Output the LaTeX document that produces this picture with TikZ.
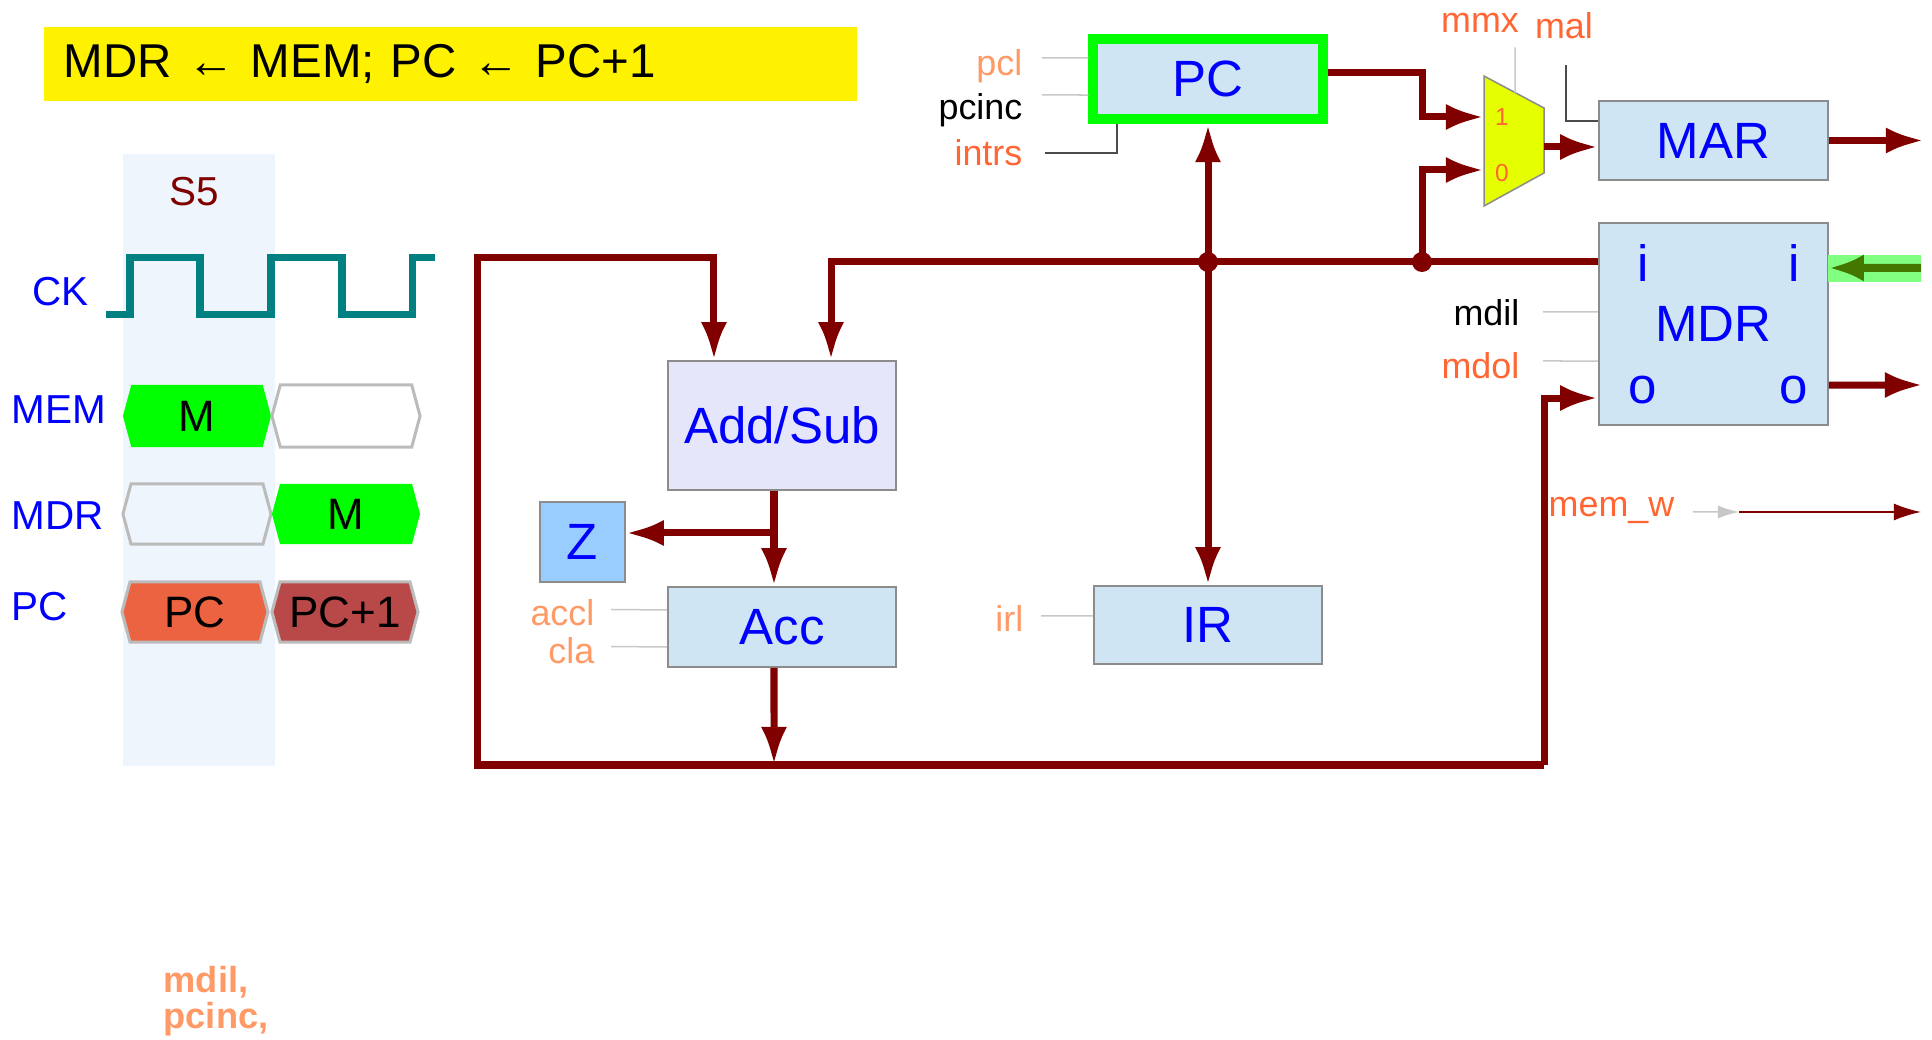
\documentclass[tikz,border=0pt]{standalone}
\usepackage{fontspec}
\setmainfont{Liberation Sans}
\usetikzlibrary{arrows.meta,positioning,shapes.symbols}
\definecolor{busred}{HTML}{800000}
\definecolor{regblue}{HTML}{CFE5F3}
\definecolor{alublue}{HTML}{E6E6FA}
\definecolor{zblue}{HTML}{99CCFF}
\definecolor{colbg}{HTML}{EEF5FC}
\definecolor{ckteal}{HTML}{008080}
\definecolor{hexgray}{HTML}{BBBBBB}
\definecolor{boxgray}{HTML}{8C8C8C}
\definecolor{ctlgray}{HTML}{C8C8C8}
\definecolor{ltorange}{HTML}{FF9966}
\definecolor{dkorange}{HTML}{FF6633}
\definecolor{sigred}{HTML}{EB6341}
\definecolor{sigbrown}{HTML}{B94849}
\definecolor{muxyellow}{HTML}{E5FF00}
\definecolor{litegreen}{HTML}{80FF80}
\definecolor{dkgreen}{HTML}{447700}
\begin{document}
\begin{tikzpicture}[x=0.01cm,y=-0.01cm,>={Latex[length=0.38cm,width=0.26cm]},
  every node/.style={inner sep=0pt,font=\fontsize{10.2}{12}\selectfont},
  reg/.style={draw=boxgray,line width=0.015cm,fill=regblue,text=blue,minimum width=2.28cm,minimum height=0.79cm,font=\fontsize{14.5}{17}\selectfont},
  port/.style={text=blue,font=\fontsize{14.5}{17}\selectfont},
  bus/.style={draw=busred,line width=0.07cm},
  ctl/.style={draw=ctlgray,line width=0.015cm},
  wire/.style={draw=black!70,line width=0.015cm},
  sig/.style={anchor=east},
  rowlab/.style={anchor=west,text=blue,font=\fontsize{11.5}{14}\selectfont},
  hexcell/.style={signal,signal to=east and west,signal pointer angle=150,minimum width=1.48cm,minimum height=0.6cm,line width=0.03cm,font=\fontsize{12.5}{15}\selectfont},
  joint/.style={circle,fill=busred,minimum size=0.2cm}]
\useasboundingbox (0,0) rectangle (1932,1040);
\node[fill=yellow,minimum width=8.13cm,minimum height=0.73cm,text width=7.73cm,inner xsep=0.2cm,align=left,font=\fontsize{13.5}{16}\selectfont] (title) at (450.5,64) {MDR ← MEM; PC ← PC+1};
\fill[colbg] (123,154) rectangle (275,766);
\node[text=busred,font=\fontsize{11.5}{14}\selectfont] (s5) at (194,192) {S5};
\node[rowlab] (ck) at (32,292) {CK};
\draw[ckteal,line width=0.07cm] (106,315) -- (130,315) -- (130,258) -- (200,258) -- (200,315) -- (271,315) -- (271,258) -- (342,258) -- (342,315) -- (412,315) -- (412,258) -- (435,258);
\node[rowlab] (memlab) at (11,410) {MEM};
\node[hexcell,fill=green,minimum height=0.62cm] (mem1) at (197,416) {M};
\node[hexcell,draw=hexgray,fill=white,minimum height=0.62cm] (mem2) at (346,416) {};
\node[rowlab] (mdrlab) at (11,516) {MDR};
\node[hexcell,draw=hexgray] (mdr1) at (197,514) {};
\node[hexcell,fill=green] (mdr2) at (346,514) {M};
\node[rowlab] (pclab) at (11,607) {PC};
\node[hexcell,draw=hexgray,fill=sigred,minimum width=1.46cm] (pc1) at (195,612) {PC};
\node[hexcell,draw=hexgray,fill=sigbrown,minimum width=1.46cm] (pc2) at (345,612) {PC+1};
\node[reg,fill=alublue,minimum height=1.29cm] (addsub) at (782,425.5) {Add/Sub};
\node[reg,fill=zblue,minimum width=0.85cm,minimum height=0.8cm] (zreg) at (582.5,542) {Z};
\node[reg,minimum height=0.8cm] (acc) at (782,627) {Acc};
\node[reg,minimum height=0.78cm] (ir) at (1208,625) {IR};
\node[reg,draw=green,line width=0.1cm,minimum width=2.29cm,minimum height=0.8cm] (pc) at (1208,79) {PC};
\node[reg,minimum width=2.29cm] (mar) at (1713.5,140.5) {MAR};
\node[reg,minimum width=2.29cm,minimum height=2.02cm] (mdr) at (1713.5,324) {MDR};
\node[port] (inl) at (1643,263) {i};
\node[port] (inr) at (1794,263) {i};
\node[port] (outl) at (1643,390) {o};
\node[port] (outr) at (1794,390) {o};
\draw[draw=boxgray,fill=muxyellow,line width=0.015cm] (1484,76) -- (1544,108) -- (1544,173) -- (1484,206) -- cycle;
\node[text=dkorange,font=\fontsize{7}{8}\selectfont] (mone) at (1502,117) {1};
\node[text=dkorange,font=\fontsize{7}{8}\selectfont] (mzero) at (1502,173) {0};
\coordinate (mux1) at (1484,117);
\coordinate (mux0) at (1484,170);
\coordinate (muxo) at (1544,147);
\coordinate (muxt) at (1515,93);
\node[sig,text=ltorange] (pcl) at (1023,66) {pcl};
\node[sig] (pcinc) at (1023,110) {pcinc};
\node[sig,text=dkorange] (intrs) at (1023,153) {intrs};
\node[text=dkorange] (mmx) at (1480,23) {mmx};
\node[text=dkorange] (mal) at (1564,26) {mal};
\node[sig] (mdil) at (1520,313) {mdil};
\node[sig,text=dkorange] (mdol) at (1520,366) {mdol};
\node[sig,text=ltorange] (accl) at (595,613) {accl};
\node[sig,text=ltorange] (cla) at (595,651) {cla};
\node[sig,text=ltorange] (irl) at (1024,619) {irl};
\node[anchor=west,text=dkorange] (memw) at (1548,510) {mem\_w};
\draw[ctl] ([xshift=0.19cm,yshift=0.08cm]pcl.east) -- ([yshift=0.21cm]pc.west);
\draw[ctl] ([xshift=0.19cm,yshift=0.15cm]pcinc.east) -- ([yshift=-0.16cm]pc.west);
\draw[wire] ([xshift=0.22cm]intrs.east) -| ([xshift=-0.91cm]pc.south);
\draw[ctl] ([xshift=0.35cm,yshift=-0.14cm]mmx.south) -- (muxt);
\draw[wire] ([xshift=0.02cm,yshift=-0.25cm]mal.south) |- ([yshift=0.195cm]mar.west);
\draw[ctl] ([xshift=0.23cm,yshift=0.01cm]mdil.east) -- ([yshift=0.12cm]mdr.west);
\draw[ctl] ([xshift=0.23cm,yshift=0.05cm]mdol.east) -- ([yshift=-0.37cm]mdr.west);
\draw[ctl] ([xshift=0.16cm,yshift=0.035cm]accl.east) -- ([yshift=0.17cm]acc.west);
\draw[ctl] ([xshift=0.16cm,yshift=0.045cm]cla.east) -- ([yshift=-0.2cm]acc.west);
\draw[ctl] ([xshift=0.17cm,yshift=0.03cm]irl.east) -- ([yshift=0.09cm]ir.west);
\coordinate (tl) at (477,258);
\coordinate (bl) at (477,765);
\coordinate (br) at (1544,765);
\coordinate (accout) at (774,765);
\coordinate (zb) at (774,533);
\coordinate (marout) at (1924,140.5);
\coordinate (mdrout) at (1923,385);
\coordinate (ext) at (1921,268);
\coordinate (mwa) at (1739,512);
\coordinate (mwb) at (1921,512);
\node[joint] (j1) at (1208,262) {};
\node[joint] (j2) at (1422,262) {};
\draw[bus,->] (br) -- (bl) -- (tl) -| ([xshift=-0.68cm]addsub.north);
\draw[bus,->] (br) |- ([yshift=-0.74cm]mdr.west);
\draw[bus,->] ([yshift=0.62cm]mdr.west) -| ([xshift=0.49cm]addsub.north);
\draw[bus,<->] (pc.south) -- (ir.north);
\draw[bus,->] (j2.center) |- (mux0);
\draw[bus,->] ([yshift=0.065cm]pc.east) -| (j2.center |- mux1) -- (mux1);
\draw[bus,->] (muxo) -- (muxo -| mar.west);
\draw[bus,->] (mar.east) -- (marout);
\draw[bus,->] ([yshift=-0.61cm]mdr.east) -- (mdrout);
\draw[bus,->] ([xshift=-0.08cm]addsub.south) -- ([xshift=-0.08cm]acc.north);
\draw[bus,->] (zb) -- (zb -| zreg.east);
\draw[bus,->] ([xshift=-0.08cm]acc.south) -- (accout);
\fill[litegreen] (1828,255) rectangle (1921,282);
\draw[dkgreen,line width=0.08cm,-{Latex[length=0.35cm,width=0.27cm]}] (ext) -- ([yshift=0.56cm]mdr.east);
\draw[ctl,-{Latex[length=0.21cm,width=0.13cm]}] ([xshift=0.18cm,yshift=-0.02cm]memw.east) -- (mwa);
\draw[busred,line width=0.02cm,-{Latex[length=0.27cm,width=0.17cm]}] (mwa) -- (mwb);
\node[anchor=base west,text=ltorange,font=\fontsize{10.3}{12}\selectfont\bfseries] (ctrla) at (163,992) {mdil,};
\node[anchor=base west,text=ltorange,font=\fontsize{10.3}{12}\selectfont\bfseries] (ctrlb) at (163,1028) {pcinc,};
\end{tikzpicture}
\end{document}
